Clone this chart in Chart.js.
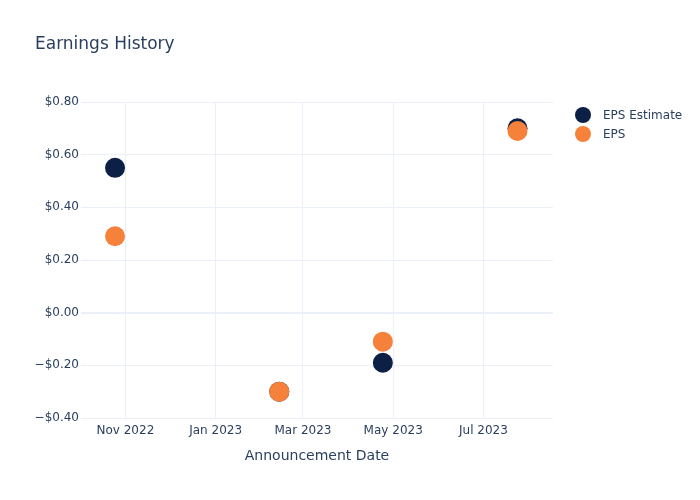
<!DOCTYPE html>
<html>
<head>
<meta charset="utf-8">
<script src="https://cdn.jsdelivr.net/npm/chart.js@4/dist/chart.umd.min.js"></script>
<style>
  html, body { margin: 0; padding: 0; background: #fff; }
  #wrap { width: 700px; height: 500px; }
</style>
</head>
<body>
<div id="wrap"><canvas id="epsChart" width="700" height="500"></canvas></div>
<script>
// Data
const announceDates = ['2022-10-25', '2023-02-13', '2023-04-24', '2023-07-24'];
const epsEstimate = [0.55, -0.30, -0.19, 0.70];
const epsActual = [0.29, -0.30, -0.11, 0.69];
const xTickDates = ['2022-11-01', '2023-01-01', '2023-03-01', '2023-05-01', '2023-07-01'];
const xTickLabels = ['Nov 2022', 'Jan 2023', 'Mar 2023', 'May 2023', 'Jul 2023'];
const xRange = ['2022-10-02', '2023-08-17'];

const FONT = '"DejaVu Sans", "Open Sans", sans-serif';
const TEXT = '#2a3f5f';
const GRID = '#ebf0f8';

const ts = d => new Date(d).getTime();
const points = vals => announceDates.map((d, i) => ({ x: ts(d), y: vals[i] }));

// title + legend drawn on the canvas, plotly style
const decorations = {
  id: 'decorations',
  afterDraw(chart) {
    const c = chart.ctx;
    c.save();
    c.fillStyle = TEXT;
    c.font = '17px ' + FONT;
    c.textBaseline = 'middle';
    c.fillText('Earnings History', 35, 45);

    c.font = '12px ' + FONT;
    chart.data.datasets.forEach((ds, i) => {
      const y = 115 + i * 19;
      c.beginPath();
      c.arc(583, y, 8, 0, Math.PI * 2);
      c.fillStyle = ds.backgroundColor;
      c.fill();
      c.fillStyle = TEXT;
      c.fillText(ds.label, 603, y + 1);
    });
    c.restore();
  }
};

const ctx = document.getElementById('epsChart').getContext('2d');

new Chart(ctx, {
  type: 'scatter',
  data: {
    datasets: [{
      label: 'EPS Estimate',
      data: points(epsEstimate),
      backgroundColor: '#0c2045',
      borderWidth: 0,
      pointRadius: 10,
      order: 2
    }, {
      label: 'EPS',
      data: points(epsActual),
      backgroundColor: '#f6813a',
      borderWidth: 0,
      pointRadius: 10,
      order: 1
    }]
  },
  options: {
    responsive: false,
    animation: false,
    layout: { padding: { top: 102, right: 147, left: 0, bottom: 0 } },
    plugins: {
      legend: { display: false },
      tooltip: { enabled: false }
    },
    scales: {
      x: {
        type: 'linear',
        min: ts(xRange[0]),
        max: ts(xRange[1]),
        afterBuildTicks: scale => {
          scale.ticks = xTickDates.map(d => ({ value: ts(d) }));
        },
        afterFit: scale => { scale.height = 82; },
        grid: { color: GRID, drawTicks: false },
        border: { display: false },
        ticks: {
          padding: 6,
          color: TEXT,
          font: { family: FONT, size: 12 },
          maxRotation: 0,
          callback: v => xTickLabels[xTickDates.map(ts).indexOf(v)] || ''
        },
        title: {
          display: true,
          text: 'Announcement Date',
          color: TEXT,
          font: { family: FONT, size: 14 },
          padding: { top: 0, bottom: 35 }
        }
      },
      y: {
        min: -0.4,
        max: 0.8,
        afterFit: scale => { scale.width = 81; },
        grid: {
          color: GRID,
          drawTicks: false,
          lineWidth: c => (Math.abs(c.tick.value) < 1e-9 ? 2 : 1)
        },
        border: { display: false },
        ticks: {
          stepSize: 0.2,
          padding: 2,
          color: TEXT,
          font: { family: FONT, size: 12 },
          callback: v => {
            if (Math.abs(v) < 1e-9) return '$0.00';
            return (v < 0 ? '\u2212' : '') + '$' + Math.abs(v).toFixed(2);
          }
        }
      }
    }
  },
  plugins: [decorations]
});
</script>
</body>
</html>
